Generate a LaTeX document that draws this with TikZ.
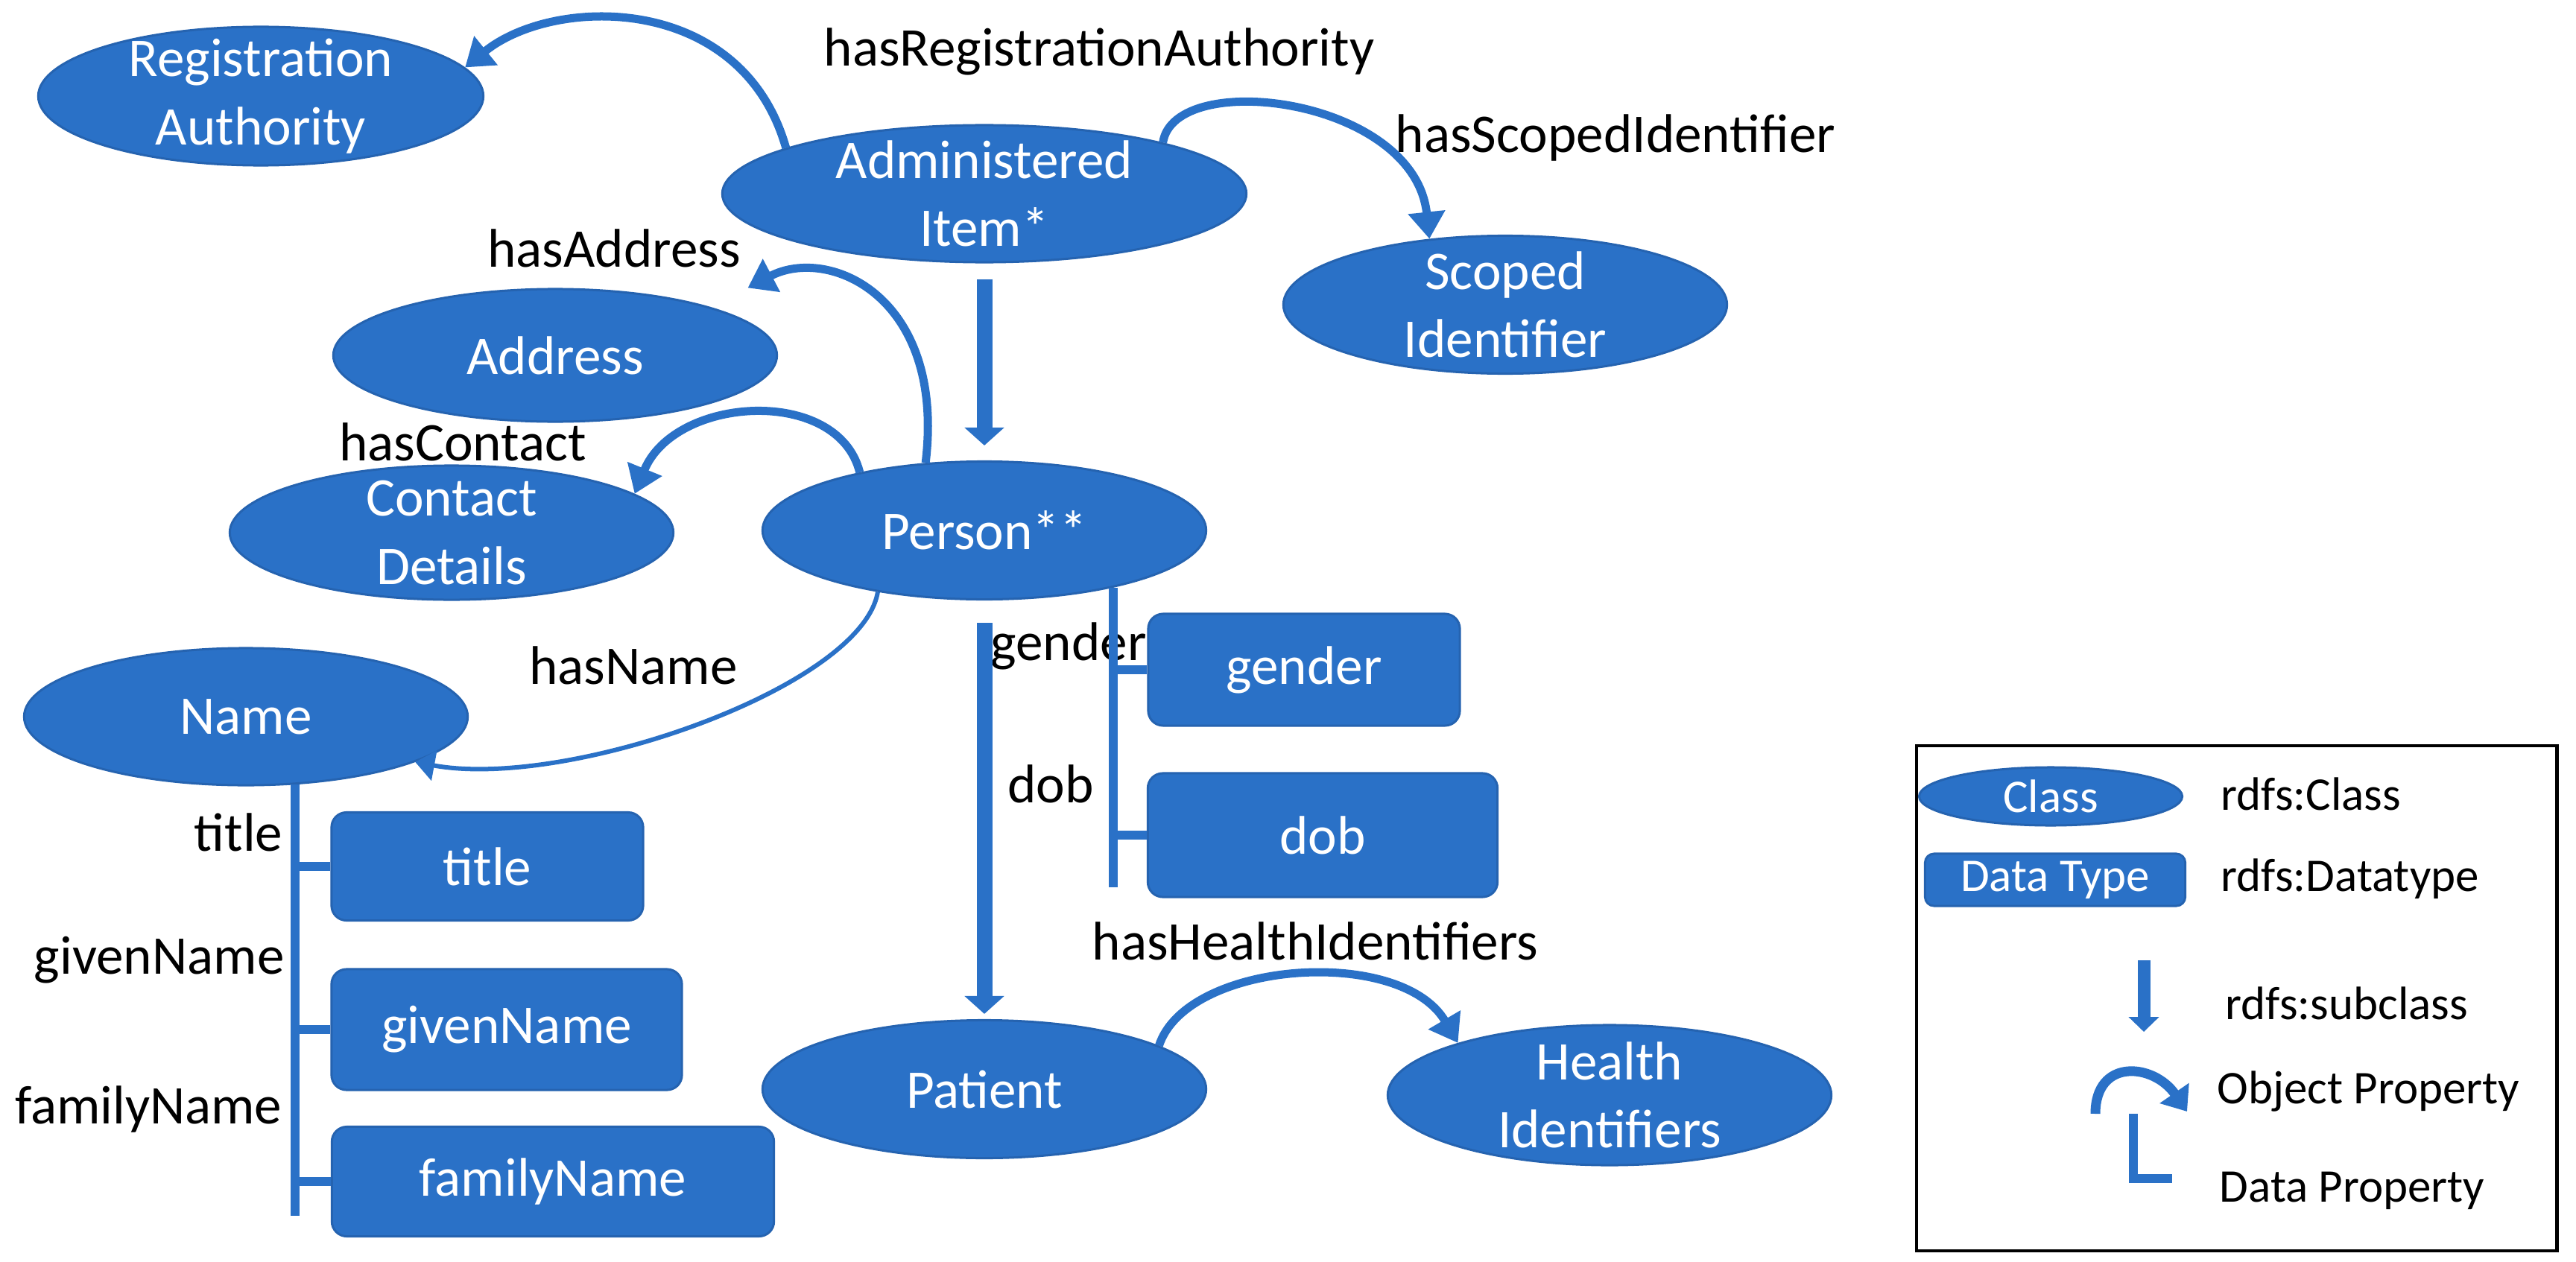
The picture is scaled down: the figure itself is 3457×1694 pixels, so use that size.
\documentclass[tikz,border=0pt]{standalone}
\usepackage{fontspec}
\setmainfont{Carlito}
\usepackage{tikz}
\usetikzlibrary{shapes.geometric, arrows.meta}
\definecolor{owlblue}{HTML}{2A71C7}
\definecolor{owlline}{HTML}{2563B0}
\newcommand{\owlfont}{\fontsize{20.8}{26}\selectfont}
\newcommand{\legfont}{\fontsize{17.9}{21}\selectfont}

\begin{document}
\begin{tikzpicture}[
    x=0.01cm, y=-0.01cm,
    owlclass/.style={ellipse, draw=owlline, line width=0.3mm, fill=owlblue, text=white, font=\owlfont, align=center, inner xsep=0pt, inner ysep=-0.25cm, minimum width=5.95cm, minimum height=1.85cm},
    datatype/.style={rectangle, rounded corners=0.2cm, draw=owlline, line width=0.3mm, fill=owlblue, text=white, font=\owlfont, inner sep=0pt, minimum height=1.5cm},
    proplabel/.style={font=\owlfont, inner sep=0pt},
    leglabel/.style={font=\legfont, inner sep=0pt, anchor=west},
    objprop/.style={draw=owlblue, line width=1.1mm, -{Triangle[width=4.8mm, length=3.6mm]}},
    subclass/.style={draw=owlblue, line width=2.1mm, -{Triangle[width=5.2mm, length=2.4mm]}},
    dataprop/.style={draw=owlblue, line width=1.2mm}
]
\useasboundingbox (0,0) rectangle (3457,1694);

\node[owlclass, minimum width=5.97cm, minimum height=1.86cm] (regauth) at (350,129) {Registration\\Authority};
\node[owlclass, minimum width=7.03cm, minimum height=1.84cm] (admin) at (1321,260) {Administered\\Item*};
\node[owlclass] (scoped) at (2020,409) {Scoped\\Identifier};
\node[owlclass, minimum height=1.78cm] (address) at (745,477) {Address};
\node[owlclass, minimum height=1.8cm] (contact) at (606,715) {Contact\\Details};
\node[owlclass] (person) at (1321,712) {Person**};
\node[owlclass, minimum height=1.84cm] (name) at (330,962) {Name};
\node[owlclass] (patient) at (1321,1462) {Patient};
\node[owlclass, minimum height=1.88cm] (health) at (2160,1470) {Health\\Identifiers};

\node[datatype, minimum width=4.18cm] (gender) at (1750,899) {gender};
\node[datatype, minimum width=4.69cm, minimum height=1.66cm] (dob) at (1775,1121) {dob};
\node[datatype, minimum width=4.18cm, minimum height=1.45cm] (title) at (654,1163) {title};
\node[datatype, minimum width=4.7cm, minimum height=1.62cm] (given) at (680,1382) {givenName};
\node[datatype, minimum width=5.93cm, minimum height=1.47cm] (family) at (742,1586) {familyName};

\node[proplabel] (lblreg) at (1475,69) {hasRegistrationAuthority};
\node[proplabel] (lblscoped) at (2168,185) {hasScopedIdentifier};
\node[proplabel] (lbladdr) at (824,333) {hasAddress};
\node[proplabel] (lblcontact) at (621,593) {hasContact};
\node[proplabel] (lblname) at (850,893) {hasName};
\node[proplabel] (lblgender) at (1434,867) {gender};
\node[proplabel] (lbldob) at (1410,1052) {dob};
\node[proplabel] (lblhealth) at (1765,1263) {hasHealthIdentifiers};
\node[proplabel, anchor=east] (lbltitle) at (380,1117) {title};
\node[proplabel, anchor=east] (lblgiven) at (382,1289) {givenName};
\node[proplabel, anchor=east] (lblfamily) at (379,1489) {familyName};

\draw[objprop] (admin.167) .. controls +(-59,-208) and +(120,-97) .. (regauth.8);
\draw[objprop] (admin.16) .. controls +(15,-100) and +(-20,-190) .. (scoped.139);
\draw[objprop] (person.131) .. controls +(27,-223) and +(109,-57) .. ([yshift=0.45cm]address.10);
\draw[objprop] (person.155) .. controls +(-29,-116) and +(54,-132) .. (contact.12);
\draw[objprop, line width=0.6mm, -{Triangle[width=4mm, length=2.6mm]}] (person.210) .. controls +(-21,127) and +(205,38) .. (name.345);
\draw[objprop] (patient.14) .. controls +(37,-114) and +(-77,-131) .. (health.161);

\draw[subclass] ([yshift=-0.21cm]admin.south) -- ([yshift=0.2cm]person.north);
\draw[subclass] ([yshift=-0.3cm]person.south) -- ([yshift=0.07cm]patient.north);

\coordinate (personbar) at (1490,1191);
\draw[dataprop] (person.-24) -- (person.-24 |- personbar);
\draw[dataprop] (gender.west -| personbar) -- (gender.west);
\draw[dataprop] (dob.west -| personbar) -- (dob.west);

\coordinate (namebar) at (395,1632);
\draw[dataprop] (name.-54) -- (name.-54 |- namebar);
\draw[dataprop] (title.west -| namebar) -- (title.west);
\draw[dataprop] (given.west -| namebar) -- (given.west);
\draw[dataprop] (family.west -| namebar) -- (family.west);

\node[draw, line width=0.45mm, minimum width=8.59cm, minimum height=6.78cm, inner sep=0pt] (legend) at (3001.5,1340) {};
\node[owlclass, font=\legfont, minimum width=3.53cm, minimum height=0.78cm, inner ysep=0pt] (legclass) at (2752,1069) {Class};
\node[datatype, font=\legfont, rounded corners=0.12cm, minimum width=3.49cm, minimum height=0.7cm] (legdt) at (2758,1181) {Data Type};
\node[leglabel] (legclasstxt) at (2980,1066) {rdfs:Class};
\node[leglabel] (legdttxt) at (2980,1180) {rdfs:Datatype};
\node[leglabel] (legsubtxt) at (2986,1347) {rdfs:subclass};
\node[leglabel] (legobjtxt) at (2975,1465) {Object Property};
\node[leglabel] (legdatatxt) at (2978,1598) {Data Property};

\coordinate (legsubtop) at (2877,1289);
\coordinate (legsubtip) at (2877,1385);
\draw[subclass, line width=1.7mm, -{Triangle[width=4mm, length=2mm]}] (legsubtop) -- (legsubtip);

\coordinate (legobjstart) at (2812,1495);
\coordinate (legobjend) at (2935,1492);
\draw[objprop, line width=1.3mm, -{Triangle[width=4.6mm, length=3mm]}] (legobjstart) .. controls +(0,-75) and +(-45,-65) .. (legobjend);

\coordinate (legdp1) at (2863,1495);
\coordinate (legdp2) at (2863,1582);
\coordinate (legdp3) at (2915,1582);
\draw[dataprop] (legdp1) -- (legdp2) -- (legdp3);

\end{tikzpicture}
\end{document}
